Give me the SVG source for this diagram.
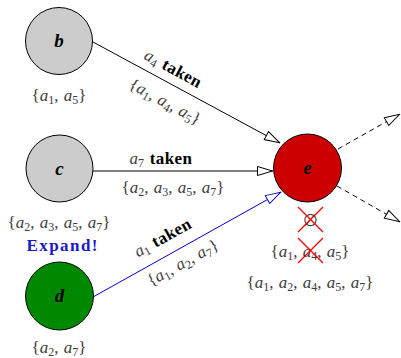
<svg xmlns="http://www.w3.org/2000/svg" width="401" height="358" viewBox="0 0 401 358">
<defs>
<style>
.node{stroke:#000;stroke-width:1}
.nl{font-family:"Liberation Serif",serif;font-size:19px;font-weight:bold;font-style:italic;text-anchor:middle;fill:#000}
.m{font-family:"Liberation Serif",serif;font-size:17px;fill:#3c3c3c;text-anchor:middle;word-spacing:1px}
.i{font-style:italic}
.s{font-size:12px}
.tk{font-weight:bold;fill:#000;font-size:17px;letter-spacing:0.4px}
.edge{fill:none;stroke:#000;stroke-width:1}
.x{stroke:#f00;stroke-width:1.2}
</style>
<marker id="ah" viewBox="0 0 17 11" refX="16.5" refY="5.5" markerWidth="17" markerHeight="11" markerUnits="userSpaceOnUse" orient="auto">
<path d="M1,1 L16,5.5 L1,10 Z" fill="#fff" stroke="#000" stroke-width="1"/>
</marker>
<marker id="ahb" viewBox="0 0 17 11" refX="16.5" refY="5.5" markerWidth="17" markerHeight="11" markerUnits="userSpaceOnUse" orient="auto">
<path d="M1,1 L16,5.5 L1,10 Z" fill="#fff" stroke="#00c" stroke-width="1"/>
</marker>
</defs>
<rect width="401" height="358" fill="#fff"/>
<g id="connectors">
<line class="edge" x1="93" y1="42" x2="280" y2="143" marker-end="url(#ah)"/>
<line class="edge" x1="93" y1="171" x2="273" y2="171" marker-end="url(#ah)"/>
<line class="edge" x1="93" y1="297" x2="281" y2="192" style="stroke:#00c" marker-end="url(#ahb)"/>
<line class="edge" x1="338" y1="149" x2="400" y2="114" stroke-dasharray="5,4" marker-end="url(#ah)"/>
<line class="edge" x1="337" y1="186" x2="400" y2="222" stroke-dasharray="5,4" marker-end="url(#ah)"/>
<g transform="translate(173,69) rotate(28.4)"><text class="m" x="0" y="5"><tspan class="i">a</tspan><tspan class="s" dy="3">4</tspan><tspan class="tk" dy="-3"> taken</tspan></text></g>
<g transform="translate(165,102) rotate(28.4)"><text class="m" x="0" y="5">{<tspan class="i">a</tspan><tspan class="s" dy="3">1</tspan><tspan dy="-3">, </tspan><tspan class="i">a</tspan><tspan class="s" dy="3">4</tspan><tspan dy="-3">, </tspan><tspan class="i">a</tspan><tspan class="s" dy="3">5</tspan><tspan dy="-3">}</tspan></text></g>
<text class="m" x="161" y="164"><tspan class="i">a</tspan><tspan class="s" dy="3">7</tspan><tspan class="tk" dy="-3"> taken</tspan></text>
<text class="m" x="173" y="193">{<tspan class="i">a</tspan><tspan class="s" dy="3">2</tspan><tspan dy="-3">, </tspan><tspan class="i">a</tspan><tspan class="s" dy="3">3</tspan><tspan dy="-3">, </tspan><tspan class="i">a</tspan><tspan class="s" dy="3">5</tspan><tspan dy="-3">, </tspan><tspan class="i">a</tspan><tspan class="s" dy="3">7</tspan><tspan dy="-3">}</tspan></text>
<g transform="translate(163,238) rotate(-29)"><text class="m" x="0" y="5"><tspan class="i">a</tspan><tspan class="s" dy="3">1</tspan><tspan class="tk" dy="-3"> taken</tspan></text></g>
<g transform="translate(183,263) rotate(-29)"><text class="m" x="0" y="5">{<tspan class="i">a</tspan><tspan class="s" dy="3">1</tspan><tspan dy="-3">, </tspan><tspan class="i">a</tspan><tspan class="s" dy="3">2</tspan><tspan dy="-3">, </tspan><tspan class="i">a</tspan><tspan class="s" dy="3">7</tspan><tspan dy="-3">}</tspan></text></g>
</g>
<g id="b">
<circle class="node" cx="59" cy="41" r="33.5" fill="#ccc"/>
<text class="nl" x="59" y="47">b</text>
<text class="m" x="59" y="101">{<tspan class="i">a</tspan><tspan class="s" dy="3">1</tspan><tspan dy="-3">, </tspan><tspan class="i">a</tspan><tspan class="s" dy="3">5</tspan><tspan dy="-3">}</tspan></text>
</g>
<g id="c">
<circle class="node" cx="59.5" cy="168.5" r="33.5" fill="#ccc"/>
<text class="nl" x="59.5" y="175">c</text>
<text class="m" x="59" y="228">{<tspan class="i">a</tspan><tspan class="s" dy="3">2</tspan><tspan dy="-3">, </tspan><tspan class="i">a</tspan><tspan class="s" dy="3">3</tspan><tspan dy="-3">, </tspan><tspan class="i">a</tspan><tspan class="s" dy="3">5</tspan><tspan dy="-3">, </tspan><tspan class="i">a</tspan><tspan class="s" dy="3">7</tspan><tspan dy="-3">}</tspan></text>
<text x="62" y="251" font-family="Liberation Serif, serif" font-size="17" font-weight="bold" fill="#1a1ac8" text-anchor="middle" textLength="71" lengthAdjust="spacing">Expand!</text>
</g>
<g id="d">
<circle class="node" cx="59.5" cy="296" r="34" fill="#008800"/>
<text class="nl" x="59.5" y="302">d</text>
<text class="m" x="59" y="353">{<tspan class="i">a</tspan><tspan class="s" dy="3">2</tspan><tspan dy="-3">, </tspan><tspan class="i">a</tspan><tspan class="s" dy="3">7</tspan><tspan dy="-3">}</tspan></text>
</g>
<g id="e">
<circle class="node" cx="307.5" cy="168" r="34" fill="#cc0000"/>
<text class="nl" x="307.5" y="174">e</text>
<text class="m" x="310" y="226">∅</text>
<line class="x" x1="298" y1="207" x2="323" y2="232"/>
<line class="x" x1="323" y1="207" x2="298" y2="232"/>
<text class="m" x="310" y="257">{<tspan class="i">a</tspan><tspan class="s" dy="3">1</tspan><tspan dy="-3">, </tspan><tspan class="i">a</tspan><tspan class="s" dy="3">4</tspan><tspan dy="-3">, </tspan><tspan class="i">a</tspan><tspan class="s" dy="3">5</tspan><tspan dy="-3">}</tspan></text>
<line class="x" x1="298" y1="238" x2="323" y2="263"/>
<line class="x" x1="323" y1="238" x2="298" y2="263"/>
<text class="m" x="310" y="288">{<tspan class="i">a</tspan><tspan class="s" dy="3">1</tspan><tspan dy="-3">, </tspan><tspan class="i">a</tspan><tspan class="s" dy="3">2</tspan><tspan dy="-3">, </tspan><tspan class="i">a</tspan><tspan class="s" dy="3">4</tspan><tspan dy="-3">, </tspan><tspan class="i">a</tspan><tspan class="s" dy="3">5</tspan><tspan dy="-3">, </tspan><tspan class="i">a</tspan><tspan class="s" dy="3">7</tspan><tspan dy="-3">}</tspan></text>
</g>
</svg>
